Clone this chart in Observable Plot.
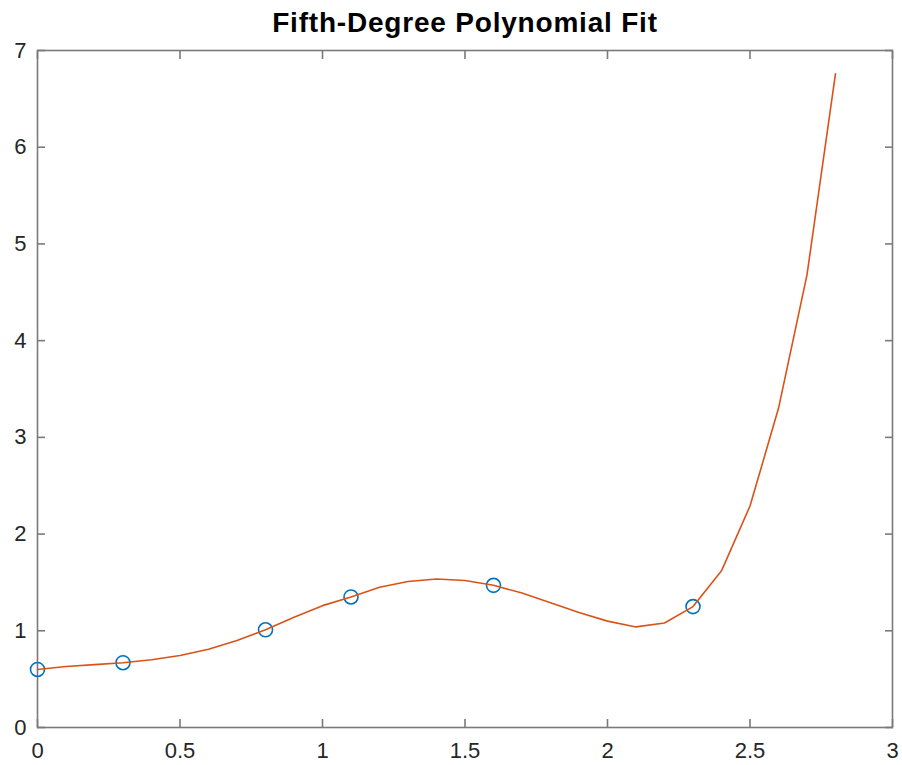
<!DOCTYPE html>
<html>
<head>
<meta charset="utf-8">
<script src="https://cdn.jsdelivr.net/npm/d3@7"></script>
<script src="https://cdn.jsdelivr.net/npm/@observablehq/plot@0.6"></script>
<style>
  html, body { margin: 0; padding: 0; background: #fff; }
  #chart svg { display: block; }
</style>
</head>
<body>
<div id="chart"></div>
<script>
const title = "Fifth-Degree Polynomial Fit";

// Observed data points
const xData = [0, 0.3, 0.8, 1.1, 1.6, 2.3];
const yData = [0.6, 0.67, 1.01, 1.35, 1.47, 1.25];

// Fitted curve
const xFit = [0, 0.1, 0.2, 0.3, 0.4, 0.5, 0.6, 0.7, 0.8, 0.9, 1.0, 1.1, 1.2, 1.3, 1.4,
              1.5, 1.6, 1.7, 1.8, 1.9, 2.0, 2.1, 2.2, 2.3, 2.4, 2.5, 2.6, 2.7, 2.8];
const yFit = [0.6, 0.63, 0.65, 0.67, 0.70, 0.745, 0.81, 0.90, 1.01, 1.14, 1.26, 1.35, 1.45, 1.51, 1.535,
              1.52, 1.47, 1.39, 1.29, 1.19, 1.10, 1.04, 1.08, 1.25, 1.62, 2.29, 3.30, 4.68, 6.76];

const xTicks = [0, 0.5, 1, 1.5, 2, 2.5, 3];
const xTickLabels = ["0", "0.5", "1", "1.5", "2", "2.5", "3"];
const yTicks = [0, 1, 2, 3, 4, 5, 6, 7];
const yTickLabels = ["0", "1", "2", "3", "4", "5", "6", "7"];

const points = xData.map((x, i) => ({x, y: yData[i]}));
const curve = xFit.map((x, i) => ({x, y: yFit[i]}));

const axisColor = "#7a7a7a";
const labelColor = "#262626";

const chart = Plot.plot({
  width: 902,
  height: 765,
  marginLeft: 37,
  marginRight: 10,
  marginTop: 50,
  marginBottom: 38,
  style: {fontFamily: "'Liberation Sans', Arial, Helvetica, sans-serif", fontSize: "22px", background: "#fff"},
  x: {domain: [0, 3], label: null},
  y: {domain: [0, 7], label: null},
  marks: [
    Plot.frame({stroke: axisColor, strokeWidth: 1.6}),
    // tick labels
    Plot.axisX(xTicks, {anchor: "bottom", tickSize: 0, tickPadding: 15, tickFormat: (d, i) => xTickLabels[i], fill: labelColor, label: null, fontSize: 22}),
    Plot.axisY(yTicks, {anchor: "left", tickSize: 0, tickPadding: 11, tickFormat: (d, i) => yTickLabels[i], fill: labelColor, label: null, fontSize: 22}),
    // inward ticks on all four sides
    Plot.axisX(xTicks, {anchor: "bottom", tickSize: -8, fill: "none", stroke: axisColor, strokeWidth: 1.6, label: null}),
    Plot.axisX(xTicks, {anchor: "top", tickSize: -8, fill: "none", stroke: axisColor, strokeWidth: 1.6, label: null}),
    Plot.axisY(yTicks, {anchor: "left", tickSize: -8, fill: "none", stroke: axisColor, strokeWidth: 1.6, label: null}),
    Plot.axisY(yTicks, {anchor: "right", tickSize: -8, fill: "none", stroke: axisColor, strokeWidth: 1.6, label: null}),
    // data
    Plot.dot(points, {x: "x", y: "y", r: 7, stroke: "#0072BD", strokeWidth: 1.6, fill: "none"}),
    Plot.line(curve, {x: "x", y: "y", stroke: "#D95319", strokeWidth: 1.6}),
    // title
    Plot.text([title], {frameAnchor: "top", dy: -27, lineAnchor: "middle", text: d => d, fontSize: 28, fontWeight: "bold", fill: "#000", style: {letterSpacing: "0.8px"}})
  ]
});

// apply letter spacing to the title text
chart.querySelectorAll("text").forEach(t => {
  if (t.textContent === title) t.setAttribute("letter-spacing", "0.8");
});

document.getElementById("chart").appendChild(chart);
</script>
</body>
</html>
